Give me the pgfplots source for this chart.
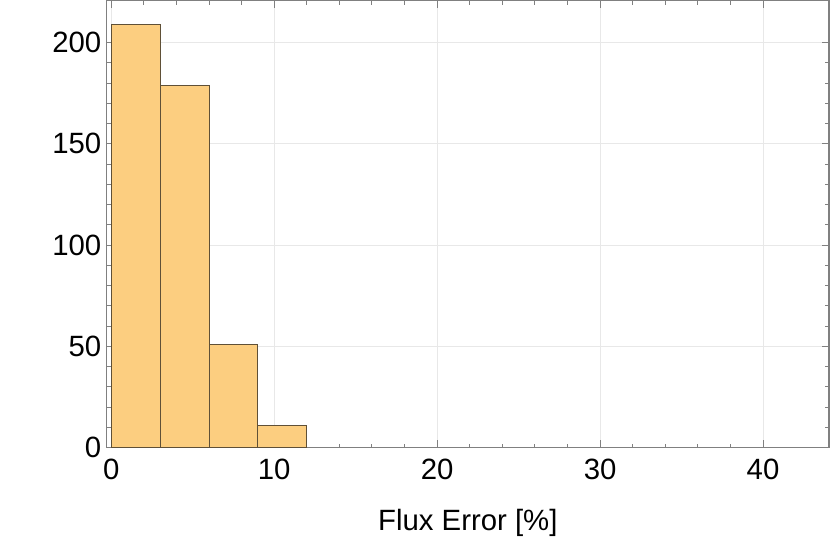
\documentclass[border=0pt]{standalone}
\usepackage{pgfplots}
\pgfplotsset{compat=1.18}
\usepackage{fontspec}
\setmainfont{Liberation Sans}

\definecolor{barfill}{RGB}{252,206,128}
\definecolor{baredge}{RGB}{95,80,55}
\definecolor{framegray}{RGB}{128,128,128}
\definecolor{gridgray}{RGB}{232,232,232}

\begin{document}
\begin{tikzpicture}
\begin{axis}[
  scale only axis,
  width=541.7pt, height=335.25pt,
  xmin=-0.28, xmax=44.05,
  ymin=0, ymax=220.7,
  xtick={0,10,...,40},
  ytick={0,50,...,200},
  minor x tick num=4,
  minor y tick num=4,
  tick align=inside,
  tick pos=both,
  major tick length=5.5pt,
  minor tick length=3pt,
  axis line style={framegray, line width=0.8pt},
  tick style={framegray, line width=0.7pt},
  grid=major,
  major grid style={gridgray, line width=0.7pt},
  /pgf/number format/assume math mode=true,
  tick label style={font=\fontsize{22}{26}\selectfont, black},
  xticklabel style={yshift=-5pt},
  yticklabel style={xshift=-0.5pt},
  xlabel={Flux Error [\%]},
  xlabel style={font=\fontsize{22}{26}\selectfont, at={(axis description cs:0.5,0)}, anchor=center, yshift=-56.25pt},
]
% histogram bins of width 3
\addplot[ybar interval, fill=barfill, draw=baredge, line width=0.7pt]
  coordinates {(0,209) (3,179) (6,51) (9,11) (12,11)};
\end{axis}
\path (current axis.south west) ++(-80pt,-72pt);
\path (current axis.north east) ++(0.75pt,0pt);
\end{tikzpicture}
\end{document}
